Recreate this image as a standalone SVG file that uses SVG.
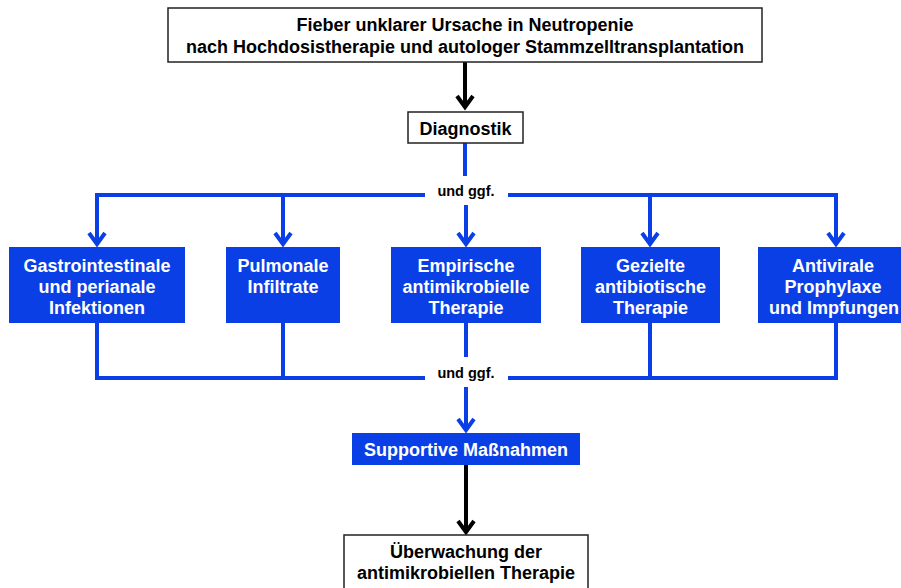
<svg xmlns="http://www.w3.org/2000/svg" width="901" height="588" viewBox="0 0 901 588">
<style>
  .wbox{fill:#ffffff;stroke:#222222;stroke-width:1.5}
  .bbox{fill:#0b3fe6}
  .t{font-family:"Liberation Sans",Arial,Helvetica,sans-serif;font-weight:bold;font-size:18px;text-anchor:middle}
  .tb{fill:#000000}
  .tw{fill:#ffffff}
  .lbl{font-family:"Liberation Sans",Arial,Helvetica,sans-serif;font-weight:bold;font-size:14.5px;text-anchor:middle;fill:#000000}
  .cb{fill:none;stroke:#0b3fe6;stroke-width:4;stroke-linejoin:miter}
  .ck{fill:none;stroke:#000000;stroke-width:4;stroke-linejoin:miter}
</style>
<defs>
  <marker id="ab" markerUnits="userSpaceOnUse" markerWidth="24" markerHeight="24" viewBox="0 0 24 24" refX="16" refY="12" orient="auto">
    <path d="M5 4 L16 12 L5 20" fill="none" stroke="#0b3fe6" stroke-width="4"/>
  </marker>
  <marker id="ak" markerUnits="userSpaceOnUse" markerWidth="24" markerHeight="24" viewBox="0 0 24 24" refX="16" refY="12" orient="auto">
    <path d="M5 4 L16 12 L5 20" fill="none" stroke="#000000" stroke-width="4"/>
  </marker>
</defs>
<rect width="901" height="588" fill="#ffffff"/>
<g id="connectors">
  <path class="ck" d="M465 62 V107" marker-end="url(#ak)"/>
  <path class="cb" d="M465 143 V176"/>
  <path class="cb" d="M425 195 H97 V244" marker-end="url(#ab)"/>
  <path class="cb" d="M283 195 V244" marker-end="url(#ab)"/>
  <path class="cb" d="M466 205 V244" marker-end="url(#ab)"/>
  <path class="cb" d="M508 195 H836 V244" marker-end="url(#ab)"/>
  <path class="cb" d="M650 195 V244" marker-end="url(#ab)"/>
  <path class="cb" d="M97 323 V378 H425"/>
  <path class="cb" d="M283 323 V378"/>
  <path class="cb" d="M466 323 V357"/>
  <path class="cb" d="M508 378 H836 V323"/>
  <path class="cb" d="M650 323 V378"/>
  <path class="cb" d="M466 387 V430" marker-end="url(#ab)"/>
  <path class="ck" d="M466 465 V532" marker-end="url(#ak)"/>
  <text class="lbl" x="466" y="196">und ggf.</text>
  <text class="lbl" x="466" y="378">und ggf.</text>
</g>
<g id="fieber">
  <rect class="wbox" x="168" y="8" width="594" height="54"/>
  <text class="t tb" x="465" y="30.5">Fieber unklarer Ursache in Neutropenie</text>
  <text class="t tb" x="465" y="52.5">nach Hochdosistherapie und autologer Stammzelltransplantation</text>
</g>
<g id="diagnostik">
  <rect class="wbox" x="408" y="112" width="115" height="31"/>
  <text class="t tb" x="465.5" y="134.5">Diagnostik</text>
</g>
<g id="gastro">
  <rect class="bbox" x="9" y="247" width="176" height="76"/>
  <text class="t tw" x="97" y="271.5">Gastrointestinale</text>
  <text class="t tw" x="97" y="292.5">und perianale</text>
  <text class="t tw" x="97" y="313.5">Infektionen</text>
</g>
<g id="pulmonale">
  <rect class="bbox" x="226" y="247" width="114" height="76"/>
  <text class="t tw" x="283" y="271.5">Pulmonale</text>
  <text class="t tw" x="283" y="292.5">Infiltrate</text>
</g>
<g id="empirische">
  <rect class="bbox" x="391" y="247" width="150" height="76"/>
  <text class="t tw" x="466" y="271.5">Empirische</text>
  <text class="t tw" x="466" y="292.5">antimikrobielle</text>
  <text class="t tw" x="466" y="313.5">Therapie</text>
</g>
<g id="gezielte">
  <rect class="bbox" x="581" y="247" width="139" height="76"/>
  <text class="t tw" x="650.5" y="271.5">Gezielte</text>
  <text class="t tw" x="650.5" y="292.5">antibiotische</text>
  <text class="t tw" x="650.5" y="313.5">Therapie</text>
</g>
<g id="antivirale">
  <rect class="bbox" x="758" y="247" width="143" height="76"/>
  <text class="t tw" x="833" y="271.5">Antivirale</text>
  <text class="t tw" x="833" y="292.5">Prophylaxe</text>
  <text class="t tw" x="834" y="313.5">und Impfungen</text>
</g>
<g id="supportive">
  <rect class="bbox" x="352" y="433" width="228" height="32"/>
  <text class="t tw" x="466" y="455.5">Supportive Maßnahmen</text>
</g>
<g id="ueberwachung">
  <rect class="wbox" x="344" y="535" width="244" height="60"/>
  <text class="t tb" x="466" y="558">Überwachung der</text>
  <text class="t tb" x="466" y="579">antimikrobiellen Therapie</text>
</g>
</svg>
